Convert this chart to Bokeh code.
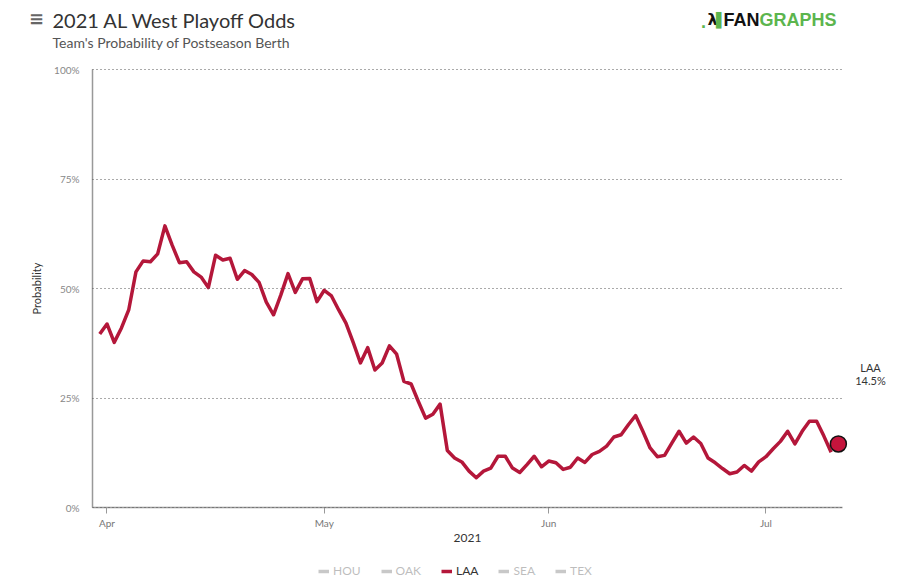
import pandas as pd
from bokeh.plotting import figure
from bokeh.models import Label, Legend, LegendItem, FixedTicker, Range1d
from bokeh.embed import file_html
from bokeh.resources import INLINE

# ---------------- data ----------------
title_text = "2021 AL West Playoff Odds"
subtitle_text = "Team's Probability of Postseason Berth"
teams = ["HOU", "OAK", "LAA", "SEA", "TEX"]
shown_team = "LAA"
start_date = "2021-03-31"
laa_odds = [
    39.6, 41.9, 37.7, 41.0, 45.1, 53.8, 56.3, 56.1, 57.9, 64.3,
    59.9, 55.9, 56.1, 53.8, 52.6, 50.2, 57.6, 56.5, 56.9, 52.1,
    54.1, 53.2, 51.4, 46.9, 44.0, 48.5, 53.4, 49.1, 52.2, 52.3,
    47.0, 49.6, 48.3, 45.1, 42.1, 37.7, 33.0, 36.5, 31.4, 33.0,
    36.9, 35.0, 28.8, 28.2, 24.2, 20.4, 21.3, 23.6, 13.0, 11.3,
    10.4, 8.3, 6.8, 8.3, 9.0, 11.7, 11.7, 9.0, 8.0, 9.8,
    11.7, 9.3, 10.6, 10.2, 8.7, 9.2, 11.3, 10.3, 12.1, 12.8,
    14.0, 16.1, 16.6, 18.9, 21.0, 17.4, 13.6, 11.6, 11.9, 14.7,
    17.4, 14.7, 16.1, 14.6, 11.3, 10.2, 8.9, 7.7, 8.1, 9.6,
    8.3, 10.4, 11.6, 13.4, 15.1, 17.4, 14.5, 17.4, 19.7, 19.7,
    16.3, 12.6,
]
latest_date = "2021-07-11"
latest_value = 14.5
month_ticks = ["2021-04-01", "2021-05-01", "2021-06-01", "2021-07-01"]
month_labels = ["Apr", "May", "Jun", "Jul"]
y_ticks = [0, 25, 50, 75, 100]
y_tick_labels = ["0%", "25%", "50%", "75%", "100%"]

dates = pd.date_range(start_date, periods=len(laa_odds), freq="D")

# ---------------- layout constants ----------------
FONT = "Lato"
RED = "#b4173a"
GREEN = "#5cb54e"
W, H = 892, 578
FR_L, FR_R, FR_T, FR_B = 92, 842, 69, 507  # pixel box of the plotting area

x_start = pd.Timestamp("2021-03-30")
x_end = pd.Timestamp("2021-07-11") + pd.Timedelta(hours=13.7)
xs_ms = x_start.value / 1e6
xe_ms = x_end.value / 1e6
ms_per_px = (xe_ms - xs_ms) / (FR_R - FR_L)
y_per_px = 100.0 / (FR_B - FR_T)

# whole canvas is the frame; axes sit at fixed locations inside it
xr0 = xs_ms - FR_L * ms_per_px
xr1 = xe_ms + (W - FR_R) * ms_per_px
yr0 = -(H - FR_B) * y_per_px
yr1 = 100.0 + FR_T * y_per_px


def px_x(x):
    return xr0 + x * ms_per_px


def px_y(y):
    return (FR_B - y) * y_per_px


p = figure(
    width=W, height=H, x_axis_type="datetime",
    x_range=Range1d(xr0, xr1), y_range=Range1d(yr0, yr1),
    output_backend="svg", toolbar_location=None, title=None, min_border=0,
)
p.outline_line_color = None
p.xgrid.visible = False
p.ygrid.visible = False

# y axis (its inward ticks form the dotted horizontal guide lines)
ya = p.yaxis[0]
ya.fixed_location = xs_ms
ya.bounds = (0, 100)
ya.ticker = FixedTicker(ticks=y_ticks)
ya.major_label_overrides = {t: l for t, l in zip(y_ticks, y_tick_labels)}
ya.axis_label = "Probability"
ya.axis_label_text_font = FONT
ya.axis_label_text_font_size = "11px"
ya.axis_label_text_font_style = "normal"
ya.axis_label_text_color = "#333333"
ya.axis_label_standoff = 8
ya.major_label_text_font = FONT
ya.major_label_text_font_size = "10px"
ya.major_label_text_color = "#888888"
ya.major_tick_line_color = "#555555"
ya.major_tick_line_dash = "1 3"
ya.major_tick_line_width = 1
ya.major_tick_in = FR_R - FR_L
ya.major_tick_out = 0
ya.minor_tick_line_color = None
ya.major_label_standoff = 13
ya.axis_line_color = "#999999"
ya.axis_line_width = 1.5

# x axis
xa = p.xaxis[0]
xa.fixed_location = 0
xa.bounds = (xs_ms, xe_ms)
tick_ms = [pd.Timestamp(t).value / 1e6 for t in month_ticks]
xa.ticker = FixedTicker(ticks=tick_ms)
xa.major_label_overrides = {t: l for t, l in zip(tick_ms, month_labels)}
xa.axis_label = "2021"
xa.axis_label_text_font = FONT
xa.axis_label_text_font_size = "12px"
xa.axis_label_text_font_style = "normal"
xa.axis_label_text_color = "#333333"
xa.axis_label_standoff = 2
xa.major_label_text_font = FONT
xa.major_label_text_font_size = "10px"
xa.major_label_text_color = "#777777"
xa.major_tick_line_color = "#999999"
xa.major_tick_in = 0
xa.major_tick_out = 6
xa.minor_tick_line_color = None
xa.major_label_standoff = 3
xa.axis_line_color = "#999999"
xa.axis_line_width = 1.5

# series (other teams are toggled off in the legend; no values shown)
renderers = {}
for t in teams:
    if t == shown_team:
        r = p.line(dates, laa_odds, line_color=RED, line_width=3.5, line_join="round")
    else:
        r = p.line([float("nan")], [float("nan")], line_color="#555555", line_width=3.5,
                   muted_color="#555555", muted_alpha=1.0)
        r.muted = True
    renderers[t] = r

p.scatter([pd.Timestamp(latest_date)], [latest_value], size=16,
          fill_color="#c4143c", line_color="#111111", line_width=1.5)

legend = Legend(
    items=[LegendItem(label=t, renderers=[renderers[t]]) for t in teams],
    orientation="horizontal", location=(318, 0),
    click_policy="mute", padding=0, margin=0, spacing=20,
    glyph_width=11, glyph_height=12, label_standoff=4, label_height=12,
    label_text_font=FONT, label_text_font_size="12px", label_text_color="#333333",
    border_line_color=None, background_fill_alpha=0,
    inactive_fill_color="white", inactive_fill_alpha=0.68,
)
p.add_layout(legend)


def add_label(text, x, y, size, color, align="left", font=FONT, style="normal"):
    p.add_layout(Label(x=px_x(x), y=px_y(y), text=text, text_font=font,
                       text_font_size=size, text_color=color, text_align=align,
                       text_baseline="middle", text_font_style=style))


# header
add_label("\u2261", 36, 18, "18px", "#666666", align="center", font="DejaVu Sans", style="bold")
add_label(title_text, 52, 19, "20px", "#333333")
add_label(subtitle_text, 52, 42, "14px", "#555555")
add_label(".", 703, 21, "18px", GREEN, align="center", font="Liberation Sans", style="bold")
add_label("\u03bb", 712, 19, "16px", "#111111", align="center", font="DejaVu Sans", style="bold")
add_label("\u258c", 721, 19, "14px", GREEN, align="center", font="DejaVu Sans")
add_label("FAN", 759, 19.5, "18px", "#111111", align="right", font="Liberation Sans", style="bold")
add_label("GRAPHS", 759, 19.5, "18px", GREEN, align="left", font="Liberation Sans", style="bold")

# end-of-series label
add_label(shown_team, 870, 367, "11px", "#333333", align="center")
add_label(f"{latest_value}%", 870, 380, "11px", "#333333", align="center")

open("out.html", "w").write(file_html(p, INLINE))
